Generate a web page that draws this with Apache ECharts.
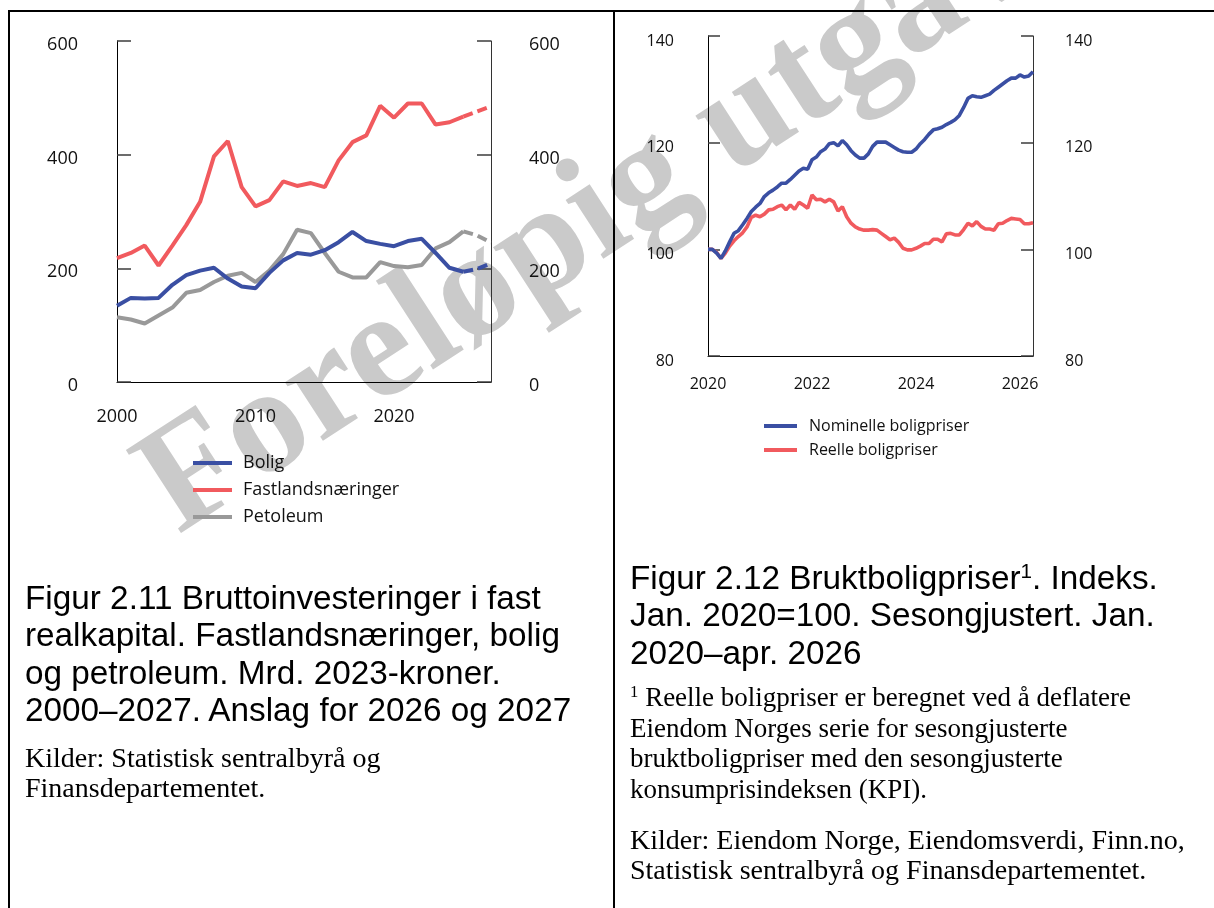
<!DOCTYPE html>
<html><head><meta charset="utf-8">
<script src="https://cdn.jsdelivr.net/npm/echarts@6/dist/echarts.min.js"></script>
<style>
html,body{margin:0;padding:0;background:#fff;width:1214px;height:908px;overflow:hidden;position:relative}
#wm{position:absolute;left:178px;top:408px;font-family:"Liberation Serif","Times New Roman",serif;font-weight:bold;font-size:152px;line-height:152px;color:#cacaca;white-space:nowrap;transform-origin:0 127px;transform:rotate(-33deg);z-index:0}
#chart{position:absolute;left:0;top:0;width:1214px;height:908px;z-index:1}
.frame{position:absolute;background:#000;z-index:3}
.cap{position:absolute;font-family:"Liberation Sans",Arial,sans-serif;font-size:33.3px;line-height:37.3px;color:#000;z-index:2;white-space:nowrap}
.src{position:absolute;font-family:"Liberation Serif","Times New Roman",serif;font-size:27px;line-height:30.5px;color:#000;z-index:2;white-space:nowrap}
.kil{font-size:28px;line-height:30px}
.sup{position:relative;top:-0.55em;font-size:0.62em;line-height:0}
</style></head>
<body>
<div id="wm">Foreløpig utgave</div>
<div id="chart"></div>
<div class="frame" style="left:8px;top:10px;width:1206px;height:2px"></div>
<div class="frame" style="left:8px;top:10px;width:2px;height:898px"></div>
<div class="frame" style="left:613px;top:10px;width:2px;height:898px"></div>
<div class="cap" style="left:25px;top:579px">Figur 2.11 Bruttoinvesteringer i fast<br>realkapital. Fastlandsnæringer, bolig<br>og petroleum. Mrd. 2023-kroner.<br>2000–2027. Anslag for 2026 og 2027</div>
<div class="src kil" style="left:25px;top:743px;line-height:29.5px">Kilder: Statistisk sentralbyrå og<br>Finansdepartementet.</div>
<div class="cap" style="left:630px;top:559px">Figur 2.12 Bruktboligpriser<span class="sup">1</span>. Indeks.<br>Jan. 2020=100. Sesongjustert. Jan.<br>2020–apr. 2026</div>
<div class="src" style="left:630px;top:682px"><span class="sup">1</span> Reelle boligpriser er beregnet ved å deflatere<br>Eiendom Norges serie for sesongjusterte<br>bruktboligpriser med den sesongjusterte<br>konsumprisindeksen (KPI).</div>
<div class="src kil" style="left:630px;top:825px">Kilder: Eiendom Norge, Eiendomsverdi, Finn.no,<br>Statistisk sentralbyrå og Finansdepartementet.</div>
<script>
// ---- Figur 2.11 data (Mrd. 2023-kroner) ----
const years = ['2000','2001','2002','2003','2004','2005','2006','2007','2008','2009','2010','2011','2012','2013','2014','2015','2016','2017','2018','2019','2020','2021','2022','2023','2024','2025','2026','2027'];
const bolig = [134,148,147,148,171,188,196,201,182,168,165,192,214,227,224,232,246,264,248,243,239,248,252,227,201,194,199,209];
const fastland = [218,227,240,205,240,276,317,397,424,343,309,320,353,345,350,343,390,422,434,486,465,490,490,453,457,467,476,485];
const petroleum = [114,110,103,117,131,157,162,176,187,192,176,196,225,268,262,227,194,184,184,211,204,202,206,235,246,265,258,245];
const lastActualYear = '2025';
const leftYTicks = [0,200,400,600];

// ---- Figur 2.12 data (Indeks, jan. 2020 = 100), monthly jan. 2020 – apr. 2026 ----
const nominelle = [100.0,100.0,99.3,98.3,99.7,101.4,103.0,103.5,104.6,105.8,
  107.1,107.9,108.6,109.9,110.6,111.1,111.7,112.4,112.4,113.1,
  113.9,114.7,115.2,115.0,116.8,117.3,118.3,118.8,119.8,120.0,
  119.4,120.4,119.6,118.5,117.7,117.1,117.1,117.9,119.3,120.1,
  120.1,120.1,119.6,119.1,118.6,118.3,118.2,118.2,118.8,119.8,
  120.6,121.6,122.4,122.6,122.9,123.4,123.8,124.3,125.1,126.6,
  128.3,128.8,128.6,128.5,128.8,129.1,129.8,130.4,131.0,131.6,
  132.1,132.1,132.7,132.3,132.5,133.3];
const reelle = [100.0,100.0,99.4,98.3,99.3,100.6,101.6,102.4,103.1,104.2,
  106.0,106.4,106.1,106.6,107.4,107.5,108.0,108.3,107.4,108.3,
  107.5,108.8,108.3,107.7,110.2,109.3,109.4,108.9,109.4,108.9,
  107.2,108.0,106.1,104.9,104.2,103.8,103.6,103.6,103.7,103.6,
  103.0,102.4,101.8,102.1,101.3,100.2,99.9,99.9,100.2,100.6,
  101.1,101.1,101.9,101.9,101.4,102.9,103.0,102.7,102.7,103.7,
  104.9,104.4,105.2,104.3,103.8,103.8,103.6,104.8,104.9,105.4,
  105.8,105.7,105.6,104.8,104.8,105.0];
const rightYTicks = [80,100,120,140];
const rightXTickLabels = ['2020','2022','2024','2026'];

const months = [];
for (let y = 2020; y <= 2026; y++) {
  for (let m = 1; m <= 12; m++) {
    if (y === 2026 && m > 4) break;
    months.push(y + '-' + (m < 10 ? '0' + m : m));
  }
}

const BLUE = '#3a4fa3', RED = '#f15a5e', GREY = '#999999';
const iA = years.indexOf(lastActualYear);
const actual = a => a.map((v, i) => i <= iA ? v : null);
const fcst = a => a.map((v, i) => i >= iA ? v : null);

const font = '"Open Sans", "Noto Sans", sans-serif';
function yAx(grid, ticks, pos, margin, len, size, lineColor, shift) {
  return {
    gridIndex: grid, type: 'value', position: pos,
    min: ticks[0], max: ticks[ticks.length - 1], interval: ticks[1] - ticks[0],
    axisLine: { show: true, onZero: false, lineStyle: { color: lineColor, width: 1 } },
    axisTick: { show: true, inside: true, length: len, lineStyle: { color: '#3c3c3c', width: 1.5 } },
    axisLabel: { color: '#111', fontSize: size, fontFamily: font, margin: margin,
      verticalAlign: 'top', lineHeight: shift * 2 },
    splitLine: { show: false }
  };
}
function line(name, data, color, xi, yi, width, dash) {
  return {
    name: name, type: 'line', xAxisIndex: xi, yAxisIndex: yi, data: data,
    color: color, showSymbol: false, symbol: 'none', smooth: false, connectNulls: false,
    lineStyle: { color: color, width: width, type: dash || 'solid' },
    emphasis: { disabled: true }, silent: true
  };
}

const chart = echarts.init(document.getElementById('chart'), null, { renderer: 'canvas' });
chart.setOption({
  animation: false,
  backgroundColor: 'transparent',
  textStyle: { fontFamily: font },
  grid: [
    { left: 117, top: 41, width: 374, height: 341 },
    { left: 708, top: 36, width: 325, height: 320 }
  ],
  xAxis: [
    { gridIndex: 0, type: 'category', data: years, boundaryGap: false,
      axisLine: { onZero: false, lineStyle: { color: '#000', width: 1 } }, axisTick: { show: false },
      axisLabel: { interval: 9, color: '#111', fontSize: 18, fontFamily: font, margin: 26 },
      splitLine: { show: false } },
    { gridIndex: 1, type: 'category', data: months, boundaryGap: false,
      axisLine: { onZero: false, lineStyle: { color: '#000', width: 1 } }, axisTick: { show: false },
      axisLabel: { interval: 23, color: '#111', fontSize: 16, fontFamily: font, margin: 20,
        formatter: v => rightXTickLabels.indexOf(v.slice(0, 4)) >= 0 ? v.slice(0, 4) : '' },
      splitLine: { show: false } }
  ],
  yAxis: [
    yAx(0, leftYTicks, 'left', 39, 14, 18, '#000', 4),
    yAx(0, leftYTicks, 'right', 38, 14, 18, '#333', 4),
    yAx(1, rightYTicks, 'left', 34, 12, 16, '#000', 5),
    yAx(1, rightYTicks, 'right', 32, 12, 16, '#333', 5)
  ],
  legend: [
    { data: ['Bolig', 'Fastlandsnæringer', 'Petoleum'], orient: 'vertical', left: 193, top: 453, padding: 0,
      icon: 'rect', itemWidth: 39, itemHeight: 4, itemGap: 7, selectedMode: false,
      textStyle: { fontSize: 18, fontFamily: font, color: '#111', lineHeight: 20, padding: [0, 0, 0, 6] } },
    { data: ['Nominelle boligpriser', 'Reelle boligpriser'], orient: 'vertical', left: 764, top: 416, padding: 0,
      icon: 'rect', itemWidth: 33, itemHeight: 4, itemGap: 4, selectedMode: false,
      textStyle: { fontSize: 16, fontFamily: font, color: '#111', lineHeight: 20, padding: [0, 0, 0, 7] } }
  ],
  series: [
    line('Petoleum', actual(petroleum), GREY, 0, 0, 4),
    line('Petoleum', fcst(petroleum), GREY, 0, 0, 4, [10, 5]),
    line('Bolig', actual(bolig), BLUE, 0, 0, 4),
    line('Bolig', fcst(bolig), BLUE, 0, 0, 4, [10, 5]),
    line('Fastlandsnæringer', actual(fastland), RED, 0, 0, 4),
    line('Fastlandsnæringer', fcst(fastland), RED, 0, 0, 4, [10, 5]),
    line('Reelle boligpriser', reelle, RED, 1, 2, 3.6),
    line('Nominelle boligpriser', nominelle, BLUE, 1, 2, 3.6)
  ]
});
</script>
</body></html>
